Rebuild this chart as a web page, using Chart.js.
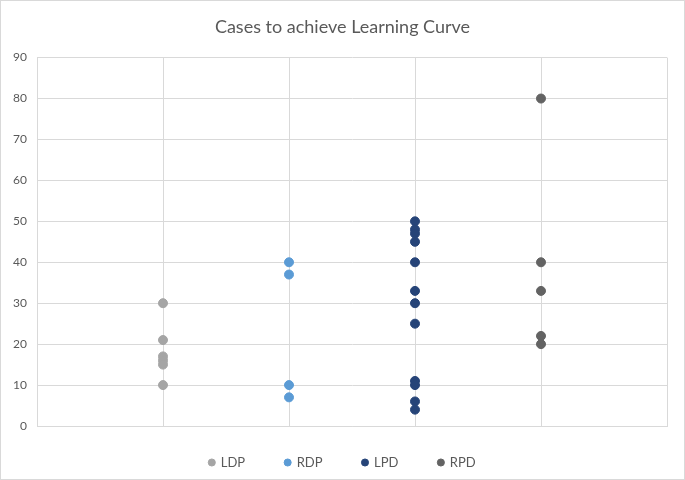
<!DOCTYPE html>
<html>
<head>
<meta charset="utf-8">
<script src="https://cdn.jsdelivr.net/npm/chart.js@4/dist/chart.umd.min.js"></script>
<style>
  html, body { margin: 0; padding: 0; background: #fff; }
  #wrap {
    position: relative;
    width: 685px;
    height: 480px;
    box-sizing: border-box;
    border: 1px solid #d9d9d9;
  }
</style>
</head>
<body>
<div id="wrap"><canvas id="chart"></canvas></div>
<script>
// data
const seriesNames = ["LDP", "RDP", "LPD", "RPD"];
const seriesX = [1, 2, 3, 4];
const ldp = [30, 21, 17, 16, 15, 10];
const rdp = [40, 37, 10, 7];
const lpd = [50, 48, 47, 45, 40, 33, 30, 25, 11, 10, 6, 4];
const rpd = [80, 40, 33, 22, 20];
const yTicks = [0, 10, 20, 30, 40, 50, 60, 70, 80, 90];

const colors = ["#a5a5a5", "#5b9bd5", "#264478", "#636363"];
const textColor = "#595959";
const gridColor = "#d9d9d9";
const fontFamily = "Lato, 'Open Sans', sans-serif";

const allValues = [ldp, rdp, lpd, rpd];

const datasets = seriesNames.map((name, i) => ({
  label: name,
  data: allValues[i].map(v => ({ x: seriesX[i], y: v })),
  backgroundColor: colors[i],
  borderColor: colors[i],
  pointRadius: 4.5,
  pointHoverRadius: 4.5,
  pointStyle: "circle"
}));

// the wide legend padding also makes the legend tall; pull its items up
// closer to the plot after layout (only the top moves, so nothing is clipped)
const legendLift = {
  id: "legendLift",
  afterLayout(chart) {
    const lg = chart.legend;
    if (lg) {
      lg.top -= 10;
    }
  }
};

new Chart(document.getElementById("chart"), {
  type: "scatter",
  data: { datasets },
  plugins: [legendLift],
  options: {
    responsive: true,
    maintainAspectRatio: false,
    animation: false,
    layout: { padding: 0 },
    plugins: {
      title: {
        display: true,
        text: "Cases to achieve Learning Curve",
        color: textColor,
        font: { family: fontFamily, size: 18, weight: "normal" },
        padding: { top: 15, bottom: 20 }
      },
      legend: {
        position: "bottom",
        maxHeight: 53,
        labels: {
          usePointStyle: true,
          boxWidth: 5,
          boxHeight: 5,
          padding: 40,
          color: textColor,
          font: { family: fontFamily, size: 13 }
        }
      },
      tooltip: { enabled: false }
    },
    scales: {
      x: {
        type: "linear",
        min: 0,
        max: 5,
        ticks: { display: false, stepSize: 1 },
        grid: { color: gridColor, drawTicks: false },
        border: { color: gridColor }
      },
      y: {
        type: "linear",
        min: 0,
        max: 90,
        afterBuildTicks: scale => {
          scale.ticks = yTicks.map(v => ({ value: v }));
        },
        afterFit: scale => { scale.width = 36; },
        ticks: {
          color: textColor,
          padding: 10,
          font: { family: fontFamily, size: 12 }
        },
        grid: { color: gridColor, drawTicks: false },
        border: { color: gridColor }
      },
      // empty right-hand axis, only to keep a gap right of the plot
      yRight: {
        position: "right",
        display: true,
        ticks: { display: false },
        grid: { display: false, drawTicks: false },
        border: { display: false },
        afterFit: scale => { scale.width = 17; }
      }
    }
  }
});
</script>
</body>
</html>
